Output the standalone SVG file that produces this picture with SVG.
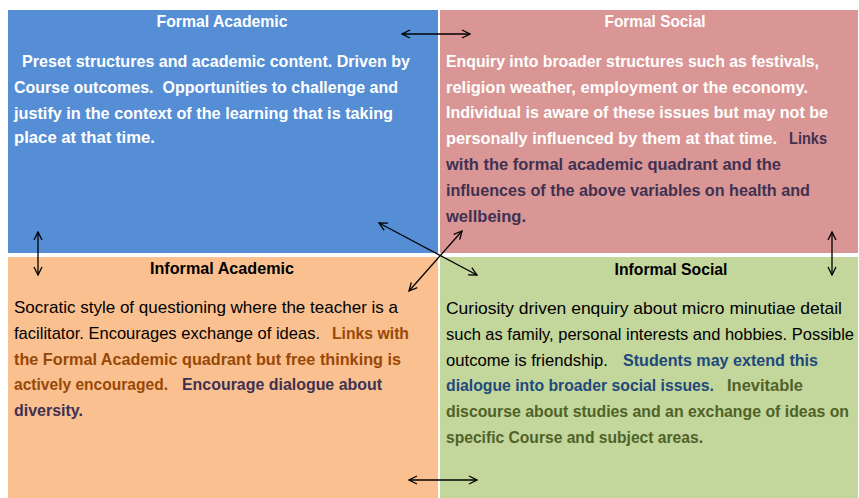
<svg xmlns="http://www.w3.org/2000/svg" width="859" height="498" viewBox="0 0 859 498">
<style>
text{font-family:"Liberation Sans",Arial,sans-serif;font-size:17px}
.t{font-weight:bold;text-anchor:middle}
.b{font-weight:bold}
.s{font-size:16px}
.w{fill:#ffffff}
.k{fill:#000000}
.pu{fill:#403152}
.br{fill:#984807}
.nv{fill:#1F497D}
.ol{fill:#4F6228}
.conn line{stroke:#000;stroke-width:1.3;fill:none}
</style>
<defs>
<marker id="ah" viewBox="0 0 10 10" refX="9" refY="5" markerWidth="10" markerHeight="10" markerUnits="userSpaceOnUse" orient="auto-start-reverse">
<path d="M1,1 L9,5 L1,9" fill="none" stroke="#000" stroke-width="1.3"/>
</marker>
</defs>
<rect width="859" height="498" fill="#ffffff"/>
<g id="formal-academic">
<rect x="8" y="10" width="430" height="243" fill="#558ED5"/>
<text class="t w" x="222" y="27" textLength="131" lengthAdjust="spacingAndGlyphs">Formal Academic</text>
<text class="b w" x="22" y="67" textLength="388" lengthAdjust="spacingAndGlyphs">Preset structures and academic content. Driven by</text>
<text class="b w" x="14" y="93" textLength="384" lengthAdjust="spacingAndGlyphs" xml:space="preserve">Course outcomes.  Opportunities to challenge and</text>
<text class="b w" x="14" y="119" textLength="379" lengthAdjust="spacingAndGlyphs">justify in the context of the learning that is taking</text>
<text class="b w" x="14" y="143" textLength="141" lengthAdjust="spacingAndGlyphs">place at that time.</text>
</g>
<g id="formal-social">
<rect x="440" y="10" width="418" height="243" fill="#D99694"/>
<text class="t w" x="655" y="27" textLength="101" lengthAdjust="spacingAndGlyphs">Formal Social</text>
<text class="b w" x="446" y="67" textLength="373" lengthAdjust="spacingAndGlyphs">Enquiry into broader structures such as festivals,</text>
<text class="b w" x="446" y="93" textLength="362" lengthAdjust="spacingAndGlyphs">religion weather, employment or the economy.</text>
<text class="b w" x="446" y="118" textLength="382" lengthAdjust="spacingAndGlyphs">Individual is aware of these issues but may not be</text>
<text class="b w" x="446" y="144" textLength="331" lengthAdjust="spacingAndGlyphs">personally influenced by them at that time.</text>
<text class="b pu" x="789" y="144" textLength="38" lengthAdjust="spacingAndGlyphs">Links</text>
<text class="b pu" x="446" y="170" textLength="335" lengthAdjust="spacingAndGlyphs">with the formal academic quadrant and the</text>
<text class="b pu" x="446" y="196" textLength="364" lengthAdjust="spacingAndGlyphs">influences of the above variables on health and</text>
<text class="b pu" x="446" y="222" textLength="80" lengthAdjust="spacingAndGlyphs">wellbeing.</text>
</g>
<g id="informal-academic">
<rect x="8" y="257" width="430" height="241" fill="#FAC090"/>
<text class="t k" x="222" y="274" textLength="144" lengthAdjust="spacingAndGlyphs">Informal Academic</text>
<text class="k" x="14" y="313" textLength="384" lengthAdjust="spacingAndGlyphs">Socratic style of questioning where the teacher is a</text>
<text class="k" x="14" y="339" textLength="306" lengthAdjust="spacingAndGlyphs">facilitator. Encourages exchange of ideas.</text>
<text class="b br" x="332" y="339" textLength="77" lengthAdjust="spacingAndGlyphs">Links with</text>
<text class="b br" x="14" y="365" textLength="387" lengthAdjust="spacingAndGlyphs">the Formal Academic quadrant but free thinking is</text>
<text class="b br" x="14" y="390" textLength="154" lengthAdjust="spacingAndGlyphs">actively encouraged.</text>
<text class="b pu" x="182" y="390" textLength="200" lengthAdjust="spacingAndGlyphs">Encourage dialogue about</text>
<text class="b pu" x="14" y="416" textLength="69" lengthAdjust="spacingAndGlyphs">diversity.</text>
</g>
<g id="informal-social">
<rect x="440" y="257" width="418" height="241" fill="#C3D69B"/>
<text class="t k" x="671" y="275" textLength="113" lengthAdjust="spacingAndGlyphs">Informal Social</text>
<text class="k" x="446" y="314" textLength="396" lengthAdjust="spacingAndGlyphs">Curiosity driven enquiry about micro minutiae detail</text>
<text class="k s" x="446" y="340" textLength="408" lengthAdjust="spacingAndGlyphs">such as family, personal interests and hobbies. Possible</text>
<text class="k" x="446" y="366" textLength="162" lengthAdjust="spacingAndGlyphs">outcome is friendship.</text>
<text class="b nv" x="623" y="366" textLength="195" lengthAdjust="spacingAndGlyphs">Students may extend this</text>
<text class="b nv s" x="446" y="391" textLength="268" lengthAdjust="spacingAndGlyphs">dialogue into broader social issues.</text>
<text class="b ol" x="727" y="391" textLength="76" lengthAdjust="spacingAndGlyphs">Inevitable</text>
<text class="b ol s" x="446" y="417" textLength="403" lengthAdjust="spacingAndGlyphs">discourse about studies and an exchange of ideas on</text>
<text class="b ol" x="446" y="443" textLength="257" lengthAdjust="spacingAndGlyphs">specific Course and subject areas.</text>
</g>
<g id="connectors" class="conn">
<line x1="402" y1="34" x2="470" y2="34" marker-start="url(#ah)" marker-end="url(#ah)"/>
<line x1="38" y1="232" x2="38" y2="275" marker-start="url(#ah)" marker-end="url(#ah)"/>
<line x1="832" y1="232" x2="832" y2="275" marker-start="url(#ah)" marker-end="url(#ah)"/>
<line x1="409" y1="480" x2="477" y2="480" marker-start="url(#ah)" marker-end="url(#ah)"/>
<line x1="379" y1="223" x2="477" y2="275" marker-start="url(#ah)" marker-end="url(#ah)"/>
<line x1="462" y1="231" x2="409" y2="291" marker-start="url(#ah)" marker-end="url(#ah)"/>
</g>
</svg>
